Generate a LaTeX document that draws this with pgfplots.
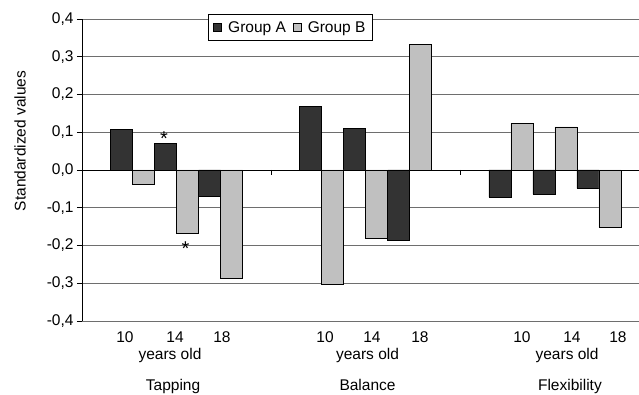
\documentclass[border=0pt]{standalone}
\usepackage{fontspec}
\setmainfont{Liberation Sans}
\usepackage{pgfplots}
\pgfplotsset{compat=1.18}
\definecolor{barA}{HTML}{333333}
\definecolor{barB}{HTML}{C0C0C0}
\definecolor{gridgray}{HTML}{6E6E6E}
\newcommand{\chartfont}{\fontsize{15.5bp}{18bp}\selectfont}
\pgfplotsset{
  groupbar/.style={ybar, bar width=1, bar shift=0pt, fill=#1, draw=black,
    line width=0.8bp},
  square legend/.style={
    legend image code/.code={\draw[##1] (0bp,-4bp) rectangle (8bp,4bp);
      \path (12bp,0bp);}},
}
\begin{document}
\begin{tikzpicture}[
  font=\chartfont,
  lab/.style={anchor=base, inner sep=0pt, font=\chartfont},
  star/.style={anchor=base, inner sep=0pt, font=\fontsize{20bp}{20bp}\selectfont}]
\begin{axis}[
  name=ax,
  scale only axis,
  width=557bp, height=302bp,
  xmin=0, xmax=25.32,
  ymin=-0.4, ymax=0.4,
  clip=false,
  axis x line=none,
  axis y line=left,
  axis line style={-, black, line width=0.9bp},
  ytick={-0.4,-0.3,-0.2,-0.1,0,0.1,0.2,0.3,0.4},
  tick label style={font=\chartfont},
  yticklabel style={/pgf/number format/.cd, fixed, fixed zerofill,
    precision=1, use comma, assume math mode=true},
  tick align=outside,
  major tick length=5bp,
  tick style={black, line width=0.9bp},
  ymajorgrids,
  grid style={gridgray, line width=0.9bp},
  legend columns=2,
  legend style={at={(rel axis cs:0,1)}, anchor=north west,
    xshift=126bp, yshift=5bp, draw=black, line width=0.9bp, fill=white,
    font=\chartfont,
    inner xsep=5bp, inner ysep=5bp,
    /tikz/every even column/.append style={column sep=5bp}},
]
\addplot[groupbar=barA, square legend]
  coordinates {
    (1.8,0.107) (3.8,0.070) (5.8,-0.070)
    (10.4,0.168) (12.4,0.110) (14.4,-0.186)
    (19.0,-0.072) (21.0,-0.064) (23.0,-0.049)
  };
\addlegendentry{Group A}
\addplot[groupbar=barB, square legend]
  coordinates {
    (2.8,-0.039) (4.8,-0.167) (6.8,-0.287)
    (11.4,-0.303) (13.4,-0.181) (15.4,0.333)
    (20.0,0.123) (22.0,0.114) (24.0,-0.152)
  };
\addlegendentry{Group B}

% zero line and category separators
\draw[black, line width=0.9bp] (axis cs:0,0) -- (axis cs:25.32,0);
\draw[black, line width=0.9bp] (axis cs:8.6,0) -- ([yshift=-5bp]axis cs:8.6,0);
\draw[black, line width=0.9bp] (axis cs:17.2,0) -- ([yshift=-5bp]axis cs:17.2,0);

% significance marks
\node[star] at ([yshift=-11.5bp]axis cs:3.73,0.095) {*};
\node[star] at ([yshift=-11.5bp]axis cs:4.70,-0.195) {*};

% age labels
\node[lab] at ([yshift=-22bp]axis cs:1.95,-0.4) {10};
\node[lab] at ([yshift=-22bp]axis cs:4.23,-0.4) {14};
\node[lab] at ([yshift=-22bp]axis cs:6.36,-0.4) {18};
\node[lab] at ([yshift=-22bp]axis cs:11.05,-0.4) {10};
\node[lab] at ([yshift=-22bp]axis cs:13.18,-0.4) {14};
\node[lab] at ([yshift=-22bp]axis cs:15.36,-0.4) {18};
\node[lab] at ([yshift=-22bp]axis cs:20.0,-0.4) {10};
\node[lab] at ([yshift=-22bp]axis cs:22.27,-0.4) {14};
\node[lab] at ([yshift=-22bp]axis cs:24.36,-0.4) {18};
\node[lab] at ([yshift=-39bp]axis cs:4.0,-0.4) {years old};
\node[lab] at ([yshift=-39bp]axis cs:12.98,-0.4) {years old};
\node[lab] at ([yshift=-39bp]axis cs:22.05,-0.4) {years old};
% test names
\node[lab] at ([yshift=-70bp]axis cs:4.14,-0.4) {Tapping};
\node[lab] at ([yshift=-70bp]axis cs:12.98,-0.4) {Balance};
\node[lab] at ([yshift=-70bp]axis cs:22.18,-0.4) {Flexibility};
\end{axis}
\node[rotate=90, inner sep=0pt, font=\chartfont] at ([xshift=-62bp,yshift=29bp]ax.west) {Standardized values};
\pgfresetboundingbox
\path[use as bounding box] ([xshift=-82bp,yshift=-74bp]ax.south west) rectangle ([yshift=19bp]ax.north east);
\end{tikzpicture}
\end{document}
